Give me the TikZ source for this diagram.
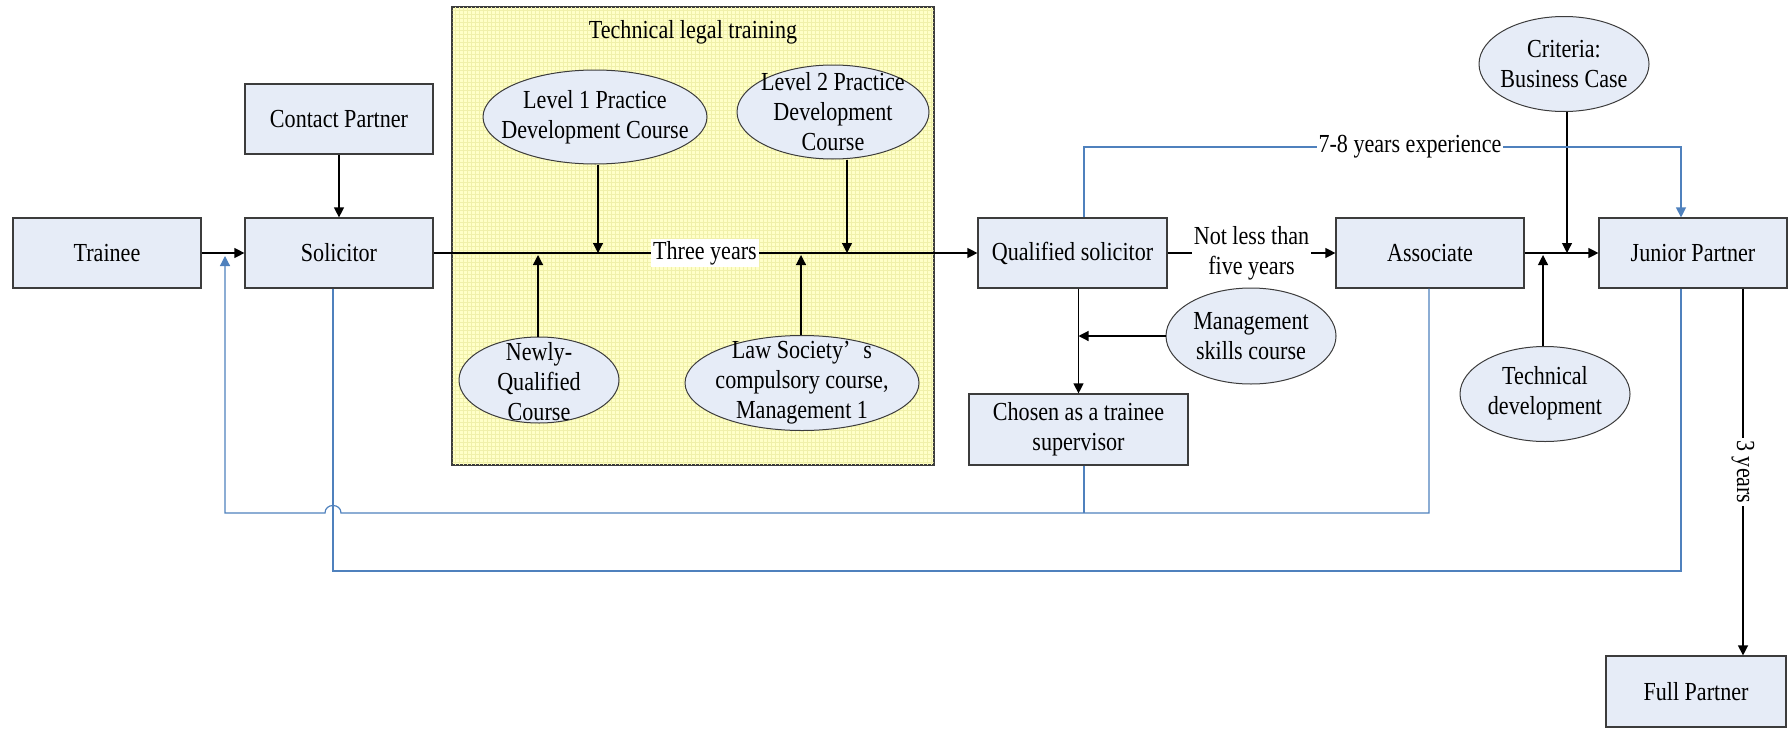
\documentclass[tikz,border=0pt]{standalone}
\usepackage{fontspec}
\setmainfont{Liberation Serif}[FakeStretch=0.85]
\usetikzlibrary{arrows.meta,shapes.geometric}
\definecolor{boxfill}{RGB}{230,236,247}
\definecolor{boxline}{RGB}{60,60,60}
\definecolor{fb}{RGB}{79,129,189}
\definecolor{ybg}{RGB}{255,255,200}
\definecolor{ygrid}{RGB}{240,240,170}
\begin{document}
\begin{tikzpicture}[x=0.5pt,y=-0.5pt,
 font=\fontsize{13}{15}\selectfont,
 box/.style={draw=boxline,fill=boxfill,line width=0.6pt,minimum width=94pt,minimum height=35pt,inner sep=0pt,align=center},
 ell/.style={ellipse,draw=boxline,fill=boxfill,line width=0.5pt,inner sep=0pt},
 txt/.style={align=center,inner sep=0pt},
 arr/.style={-{Triangle[length=5pt,width=5pt]},line width=0.6pt,black},
 blu/.style={line width=0.6pt,draw=fb},
 barr/.style={blu,-{Triangle[length=5pt,width=5pt,fill=fb]}},
 lab/.style={fill=white,inner sep=1pt,align=center}
]
\useasboundingbox (0,0) rectangle (1792,728);
% technical legal training frame
\node[draw=boxline,fill=ybg,line width=0.6pt,minimum width=241pt,minimum height=229pt,inner sep=0pt] (tlt) at (693,236) {};
\begin{scope}
\clip (452.5,7.5) rectangle (933.5,464.5);
\foreach \i in {455,459,...,933} \draw[ygrid,line width=0.25pt] (\i,7) -- (\i,465);
\foreach \j in {10,14,...,465} \draw[ygrid,line width=0.25pt] (452,\j) -- (934,\j);
\end{scope}
\draw[boxline,line width=0.6pt] (tlt.south west) rectangle (tlt.north east);
\node[txt] (tltitle) at (693,32) {Technical legal training};

% boxes
\node[box] (trainee) at (107,253) {Trainee};
\node[box] (sol) at (339,253) {Solicitor};
\node[box] (contact) at (339,119) {Contact Partner};
\node[box,minimum width=94.5pt] (qs) at (1072.5,253) {Qualified solicitor};
\node[box] (assoc) at (1430,253) {Associate};
\node[box] (jp) at (1693,253) {Junior Partner};
\node[box,minimum width=90pt,minimum height=35.5pt] (fp) at (1696,691.5) {Full Partner};
\node[box,minimum width=109.5pt,minimum height=35.5pt] (chosen) at (1078.5,429.5) {Chosen as a trainee\\supervisor};

% ellipses
\node[ell,minimum width=112pt,minimum height=47pt] (lvl1) at (595,117) {};
\node[txt] (lvl1t) at (lvl1) {Level 1 Practice\\Development Course};
\node[ell,minimum width=96pt,minimum height=47pt] (lvl2) at (833,112) {};
\node[txt] (lvl2t) at (lvl2) {Level 2 Practice\\Development\\Course};
\node[ell,minimum width=80pt,minimum height=43pt] (newly) at (539,380) {};
\node[txt] (newlyt) at (539,382) {Newly-\\Qualified\\Course};
\node[ell,minimum width=117pt,minimum height=47.5pt] (law) at (802,383) {};
\node[txt] (lawt) at (802,383) {Law Society’\,\,\,s\\compulsory course,\\Management 1};
\node[ell,minimum width=85pt,minimum height=48pt] (mgmt) at (1251,336) {};
\node[txt] (mgmtt) at (1251,336.5) {Management\\skills course};
\node[ell,minimum width=85pt,minimum height=47.5pt] (crit) at (1564,64) {};
\node[txt] (critt) at (1564,64.5) {Criteria:\\Business Case};
\node[ell,minimum width=85pt,minimum height=47.5pt] (tech) at (1545,394) {};
\node[txt] (techt) at (1545,393.5) {Technical\\development};

% coordinates on lines
\coordinate (t1) at (598,253);
\coordinate (t2) at (847,253);
\coordinate (t3) at (538,255);
\coordinate (t4) at (801,255);
\coordinate (m1) at (1078.5,336);
\coordinate (c1) at (1567,253);
\coordinate (c2) at (1543,255);
\coordinate (fpx) at (1743,0);

% black connectors
\draw[arr] (trainee) -- (sol);
\draw[arr] (contact) -- (sol);
\draw[arr] (sol) -- node[lab,pos=0.499] {Three years} (qs);
\draw[arr] (lvl1.south -| t1) -- (t1);
\draw[arr] (lvl2.south -| t2) -- (t2);
\draw[arr] (newly.north -| t3) -- (t3);
\draw[arr] (law.north -| t4) -- (t4);
\draw[arr] (qs) -- node[lab] {Not less than\\five years} (assoc);
\draw[arr] (qs.south -| chosen) -- (chosen);
\draw[arr] (mgmt) -- (m1);
\draw[arr] (assoc) -- (jp);
\draw[arr] (crit.south -| c1) -- (c1);
\draw[arr] (tech.north -| c2) -- (c2);
\draw[arr] (jp.south -| fpx) -- node[lab,rotate=-90] {3 years} (fp.north -| fpx);

% blue connectors
\coordinate (q1) at (1084,147);
\coordinate (j1) at (1681,147);
\draw[barr] (qs.north -| q1) -- (q1) -- node[lab,pos=0.546] {7-8 years experience} (j1) -- (jp.north -| j1);

\coordinate (f1) at (1429,513);
\coordinate (h1) at (341,513);
\coordinate (h2) at (325,513);
\coordinate (f2) at (225,513);
\coordinate (f3) at (225,256);
\draw[barr] (assoc.south -| f1) -- (f1) -- (h1) .. controls (341,503) and (325,503) .. (h2) -- (f2) -- (f3);
\coordinate (c3) at (1084,513);
\draw[blu] (chosen.south -| c3) -- (c3);

\coordinate (s1) at (333,571);
\coordinate (s2) at (1681,571);
\draw[blu] (sol.south -| s1) -- (s1) -- (s2) -- (jp.south -| s2);
\end{tikzpicture}
\end{document}
